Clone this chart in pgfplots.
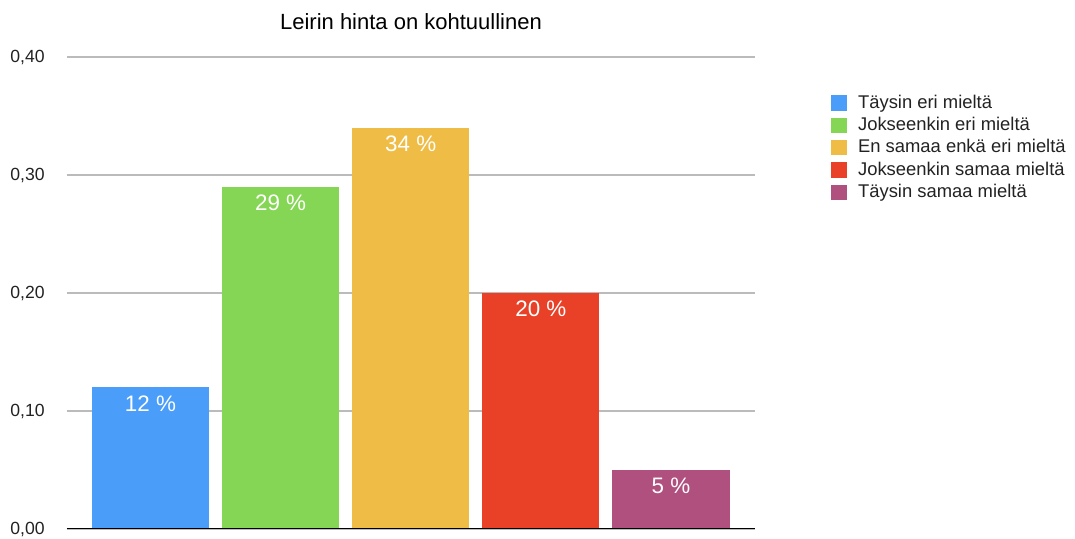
\documentclass[border=0pt]{standalone}
\usepackage{pgfplots}
\pgfplotsset{compat=1.18}
\usepackage{fontspec}
\setmainfont{Liberation Sans}

\definecolor{cblue}{HTML}{4A9DF8}
\definecolor{cgreen}{HTML}{84D654}
\definecolor{cyellow}{HTML}{EFBC45}
\definecolor{cred}{HTML}{E84127}
\definecolor{cpurple}{HTML}{B0507F}
\definecolor{gridgray}{HTML}{BBBBBB}
\definecolor{txt}{HTML}{222222}

\begin{document}
\begin{tikzpicture}
% 1 px of the reference = 0.5pt; origin at the axis' lower left corner
\useasboundingbox (-33.5pt,-5pt) rectangle (504pt,264.5pt);
\begin{axis}[at={(0,0)}, anchor=south west,
  scale only axis, width=344pt, height=236pt,
  xmin=-0.642, xmax=4.646, ymin=0, ymax=0.4,
  ybar, bar width=0.9, bar shift=0pt,
  xtick=\empty, ytick={0,0.1,0.2,0.3,0.4},
  ymajorgrids, major grid style={gridgray, line width=0.6pt},
  major tick length=0pt, axis line style={draw=none},
  /pgf/number format/.cd, fixed, fixed zerofill, precision=2, use comma, assume math mode=true,
  /pgfplots/.cd,
  yticklabel style={font=\fontsize{8.8}{10}\selectfont, text=txt, anchor=east, inner sep=0pt, xshift=-11pt},
  title={Leirin hinta on kohtuullinen},
  title style={font=\fontsize{11}{13}\selectfont, text=black, at={(0.5,1)}, anchor=base, yshift=7.5pt, inner sep=0pt},
  point meta=explicit symbolic,
  nodes near coords,
  nodes near coords style={font=\fontsize{11.2}{13}\selectfont, text=white, anchor=north, inner sep=0pt, yshift=-3.8pt},
  legend style={at={(1.11,0.925)}, anchor=north west, draw=none, fill=none,
    font=\fontsize{9.2}{11}\selectfont, text=txt, row sep=1pt, inner sep=0pt,
    nodes={inner sep=1pt}},
  legend cell align=left,
  legend image code/.code={\fill[#1,draw=none] (0pt,-3.8pt) rectangle (8pt,3.8pt); \path (12.5pt,0pt);},
]
\addplot[fill=cblue, draw=none] coordinates {(0,0.12) [12 \%]};
\addlegendentry{Täysin eri mieltä}
\addplot[fill=cgreen, draw=none] coordinates {(1,0.29) [29 \%]};
\addlegendentry{Jokseenkin eri mieltä}
\addplot[fill=cyellow, draw=none] coordinates {(2,0.34) [34 \%]};
\addlegendentry{En samaa enkä eri mieltä}
\addplot[fill=cred, draw=none] coordinates {(3,0.20) [20 \%]};
\addlegendentry{Jokseenkin samaa mieltä}
\addplot[fill=cpurple, draw=none] coordinates {(4,0.05) [5 \%]};
\addlegendentry{Täysin samaa mieltä}
\draw[black, line width=0.8pt] (rel axis cs:0,0) -- (rel axis cs:1,0);
\end{axis}
\end{tikzpicture}
\end{document}
